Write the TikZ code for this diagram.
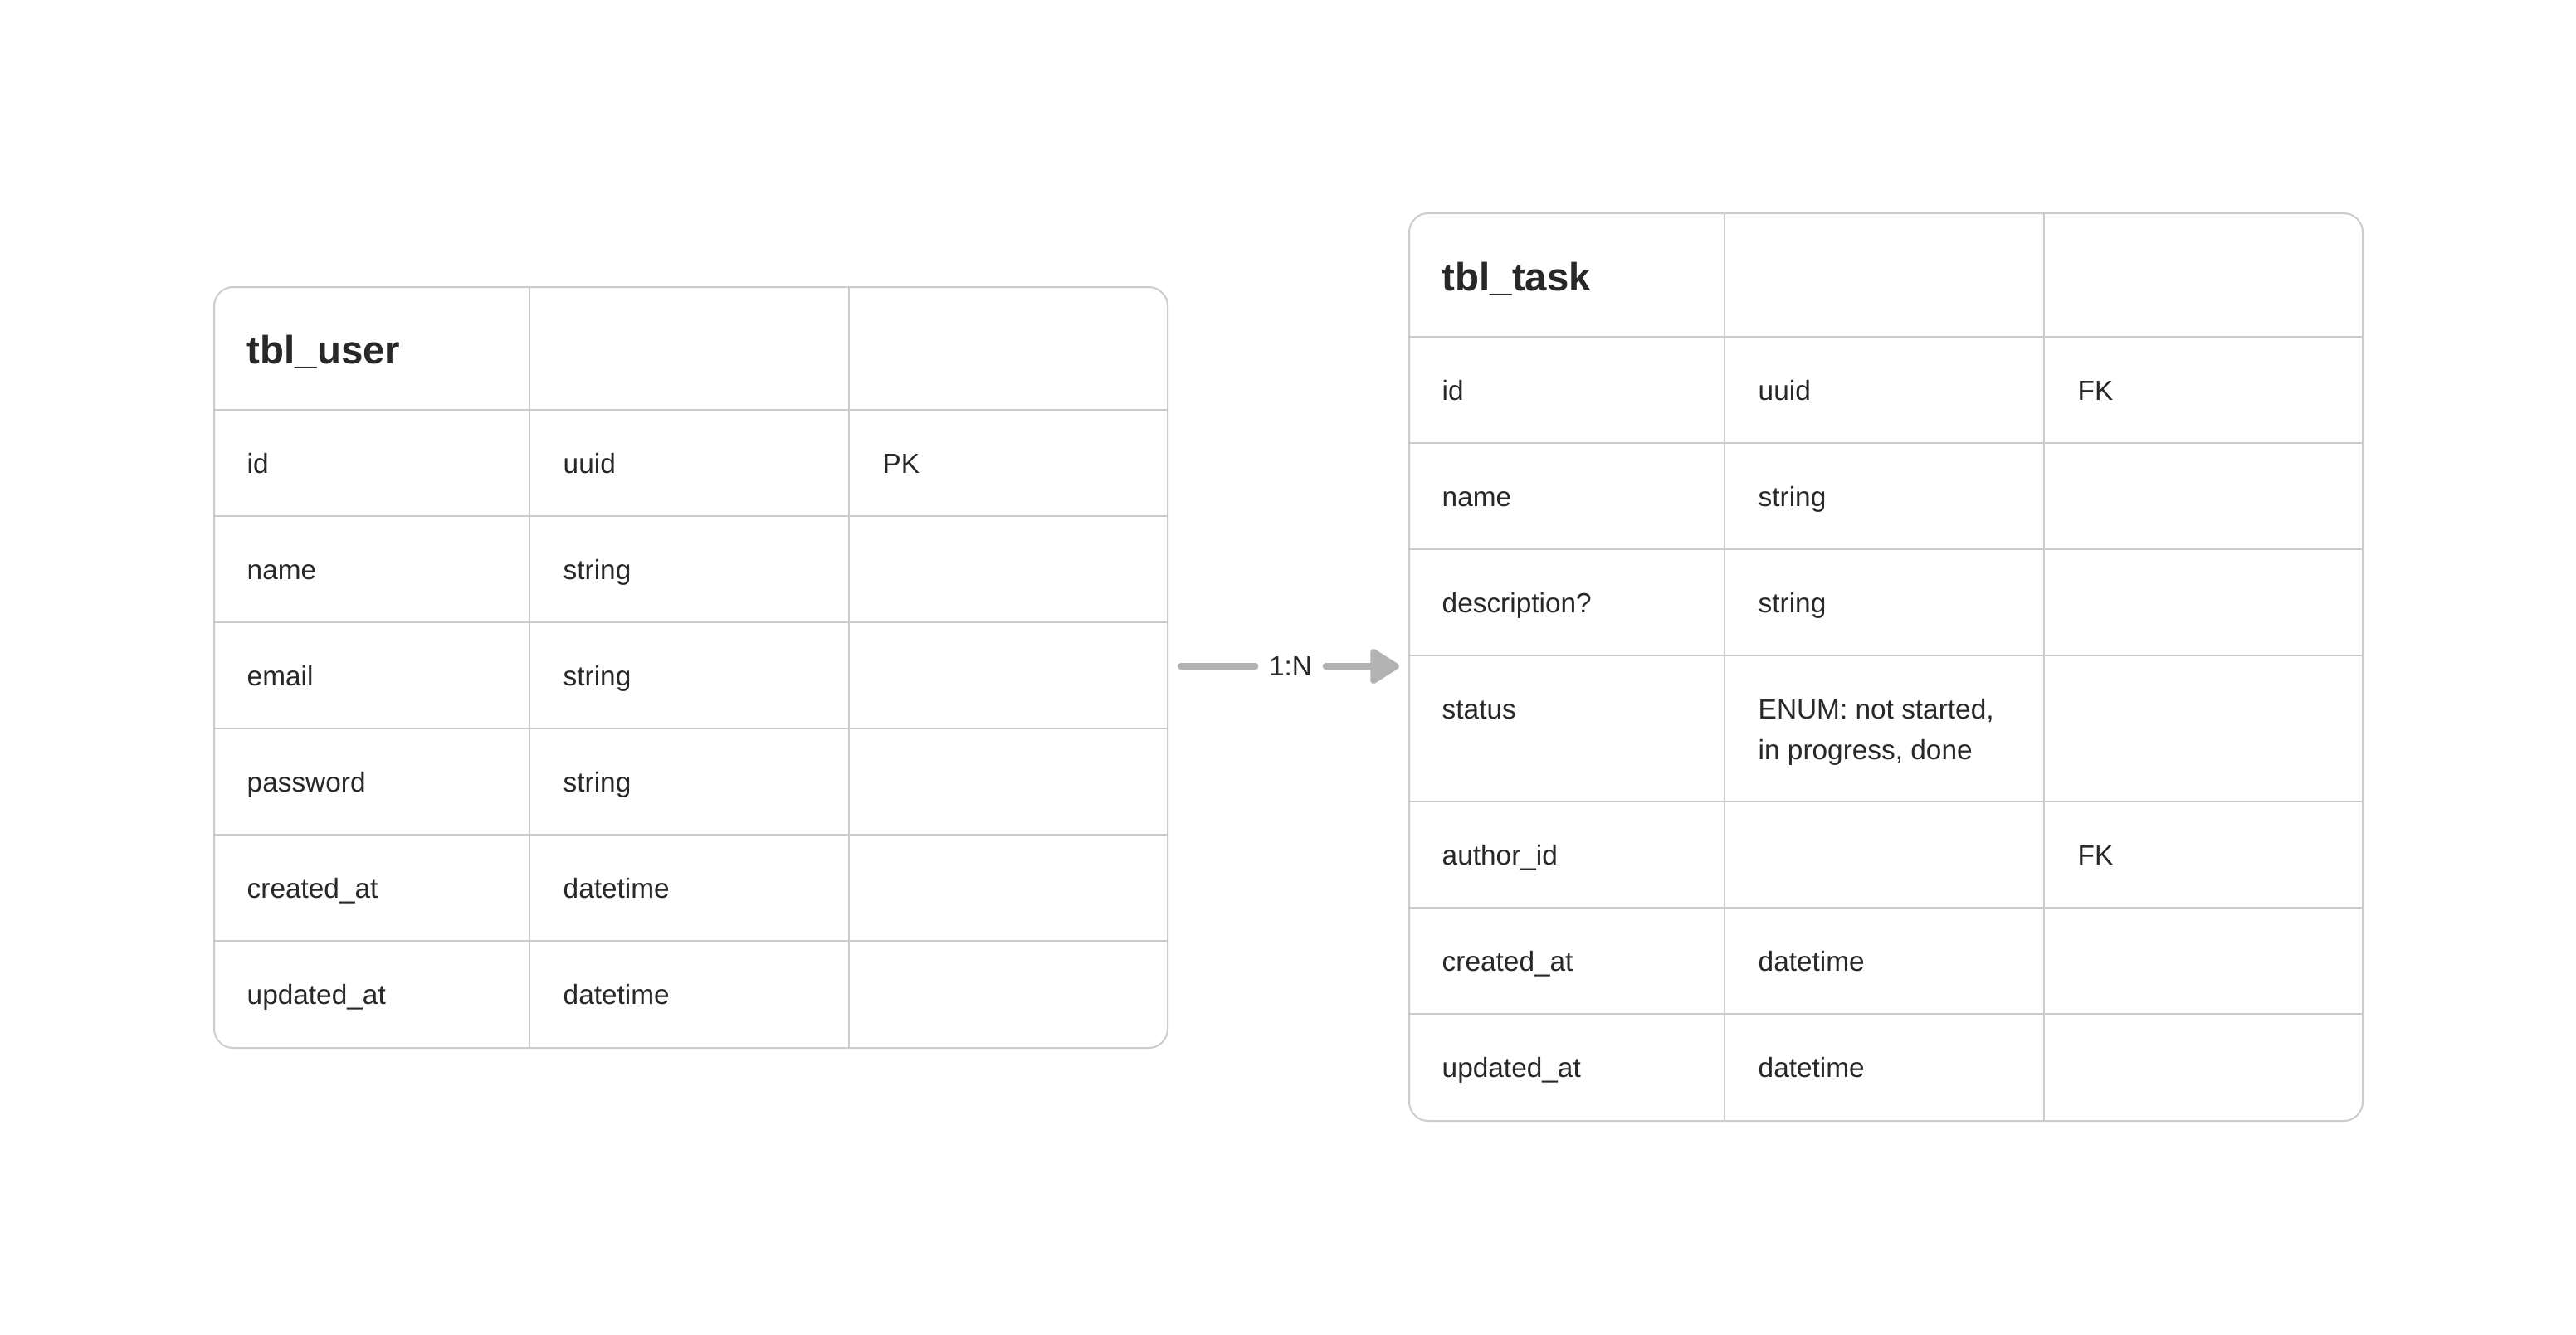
\documentclass[tikz,border=0pt]{standalone}
\usepackage{fontspec}
\setmainfont{Liberation Sans}
\usepackage{tikz}
\usetikzlibrary{positioning,arrows.meta}
\definecolor{borde}{RGB}{204,204,204}
\definecolor{texto}{RGB}{40,40,40}
\definecolor{flechagris}{RGB}{178,178,178}

\begin{document}
\begin{tikzpicture}[
  tabla/.style={draw=borde, line width=0.57pt, rounded corners=0.23cm,
                inner sep=0pt, anchor=north west},
  rejilla/.style={draw=borde, line width=0.57pt},
  campo/.style={font=\fontsize{9.5}{13.9}\selectfont, text=texto,
                inner sep=0pt, anchor=base west},
  tit/.style={font=\fontsize{13.5}{16}\selectfont\bfseries, text=texto,
              inner sep=0pt, anchor=base west},
  flecha/.style={line width=2pt, color=flechagris, line cap=round}]
  \path[fill=white] (0,0) rectangle (31.04,-16.08);
  % Tabla de usuarios
  \node[tabla, minimum width=11.49cm, minimum height=9.17cm] (user)
       at (2.57,-3.45) {};
  \node[tit] (user-tit) at (2.97,-4.38) {tbl\_user};
  \foreach \y in {-4.94,-6.22,-7.50,-8.78,-10.06,-11.34}
    \draw[rejilla] (2.57,\y) -- (14.06,\y);
  \foreach \x in {6.38,10.23}
    \draw[rejilla] (\x,-3.45) -- (\x,-12.62);
  \foreach \campo/\tipo [count=\i] in {id/uuid, name/string, email/string,
      password/string, created\_at/datetime, updated\_at/datetime}{
    \node[campo] (u-campo-\i) at (2.97,-5.70-\i*1.28+1.28) {\campo};
    \node[campo] (u-tipo-\i) at (6.78,-5.70-\i*1.28+1.28) {\tipo};
  }
  \node[campo] (u-clave) at (10.63,-5.70) {PK};
  % Tabla de tareas
  \node[tabla, minimum width=11.49cm, minimum height=10.94cm] (task)
       at (16.97,-2.56) {};
  \node[tit] (task-tit) at (17.37,-3.50) {tbl\_task};
  \foreach \y in {-4.06,-5.34,-6.62,-7.90,-9.66,-10.94,-12.22}
    \draw[rejilla] (16.97,\y) -- (28.46,\y);
  \foreach \x in {20.78,24.63}
    \draw[rejilla] (\x,-2.56) -- (\x,-13.50);
  \foreach \campo/\y [count=\i] in {id/-4.82, name/-6.10,
      description?/-7.38, status/-8.66, author\_id/-10.42,
      created\_at/-11.70, updated\_at/-12.98}
    \node[campo] (t-campo-\i) at (17.37,\y) {\campo};
  \foreach \tipo/\y [count=\i] in {uuid/-4.82, string/-6.10,
      string/-7.38, datetime/-11.70, datetime/-12.98}
    \node[campo] (t-tipo-\i) at (21.18,\y) {\tipo};
  % la base del nodo queda en la ultima linea
  \node[campo, align=left] (t-enum) at (21.18,-9.15)
       {ENUM: not started,\\in progress, done};
  \node[campo] (t-clave-1) at (25.03,-4.82) {FK};
  \node[campo] (t-clave-2) at (25.03,-10.42) {FK};
  % Relacion
  \node[campo, anchor=center, minimum width=0.83cm] (rel) at (15.55,-8.03)
       {1:N};
  \draw[flecha, shorten <=0.145cm] (user.east |- rel.west) -- (rel.west);
  \draw[flecha, -{Triangle[length=0.38cm, width=0.46cm, round]},
        shorten >=0.11cm] (rel.east) -- (task.west |- rel.east);
\end{tikzpicture}
\end{document}
